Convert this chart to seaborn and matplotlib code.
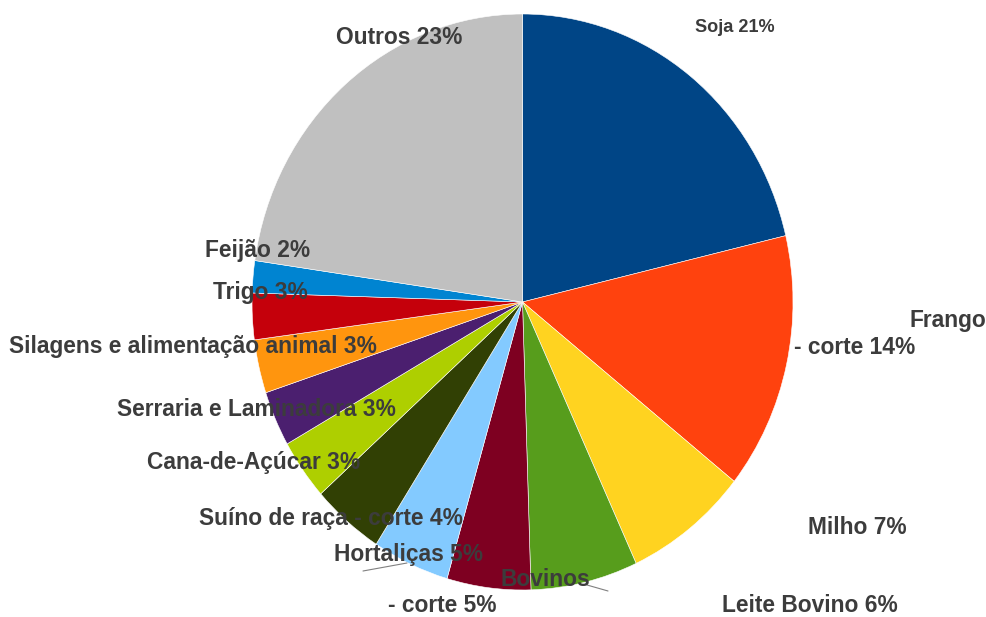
import matplotlib
matplotlib.use("Agg")
import matplotlib.pyplot as plt
import seaborn as sns

categories = ["Soja", "Frango - corte", "Milho", "Leite Bovino", "Bovinos - corte",
              "Hortaliças", "Suíno de raça - corte", "Cana-de-Açúcar",
              "Serraria e Laminadora", "Silagens e alimentação animal",
              "Trigo", "Feijão", "Outros"]
shares = [21.3, 14.4, 7.4, 6.4, 5.0, 4.6, 4.3, 3.4, 3.1, 3.0, 2.6, 1.8, 22.7]
colors = ["#004586", "#FF420E", "#FFD320", "#579D1C", "#7E0021", "#83CAFF",
          "#314004", "#AECF00", "#4B1F6F", "#FF950E", "#C5000B", "#0084D1",
          "#C0C0C0"]

sns.set_theme(style="white")
plt.rcParams["font.family"] = ["Liberation Sans", "DejaVu Sans"]

W, H = 986, 617
fig = plt.figure(figsize=(W / 100, H / 100), dpi=100)
# pie bounding box in pixels (slightly elliptical, as in the reference)
cx, cy, rx, ry = 522.5, 302, 270.5, 288
ax = fig.add_axes([(cx - rx) / W, (H - cy - ry) / H, 2 * rx / W, 2 * ry / H])
ax.pie(shares, colors=sns.color_palette(colors), startangle=90, counterclock=False,
       wedgeprops=dict(edgecolor="white", linewidth=0.4))
ax.set_aspect("auto")
ax.set_xlim(-1, 1)
ax.set_ylim(-1, 1)
ax.axis("off")

TXT = "#3c3c3c"

def ptext(x, y, s, size=16.4):
    fig.text(x / W, 1 - y / H, s, ha="center", va="center", fontsize=size,
             fontweight="bold", color=TXT)

pct = [f"{round(v)}%" for v in shares]
lab = [f"{c} {p}" for c, p in zip(categories, pct)]

# label placements (pixel centres)
ptext(735, 28, lab[0], size=13.1)
ptext(948, 320, "Frango")
ptext(855, 347, f"- corte {pct[1]}")
ptext(857, 527, lab[2])
ptext(810, 606, lab[3])
ptext(545, 580, "Bovinos")
ptext(442, 606, f"- corte {pct[4]}")
ptext(408, 555, lab[5])
ptext(331, 518, lab[6])
ptext(254, 463, lab[7])
ptext(256, 410, lab[8])
ptext(193, 346, lab[9])
ptext(260, 292, lab[10])
ptext(258, 251, lab[11])
ptext(399, 37, lab[12])

# leader lines
for (x1, y1, x2, y2) in [(363, 571, 407, 563), (587, 585, 608, 591)]:
    fig.add_artist(plt.Line2D([x1 / W, x2 / W], [1 - y1 / H, 1 - y2 / H],
                              color="#808080", linewidth=0.8))

fig.savefig("out.png", dpi=100, facecolor="white")
